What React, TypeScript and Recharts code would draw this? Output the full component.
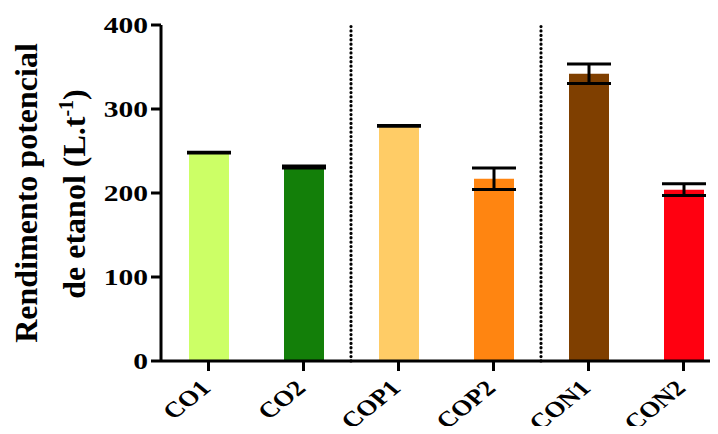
import React from 'react';
import { BarChart, Bar, XAxis, YAxis, ErrorBar, Cell, ReferenceLine, Label } from 'recharts';

const categories = ['CO1', 'CO2', 'COP1', 'COP2', 'CON1', 'CON2'];
const values = [248, 231, 280, 217, 342, 204];
const errors = [0.4, 1.2, 0.4, 12.9, 11.5, 7];
const colors = ['#CCFF66', '#137F09', '#FFCC66', '#FF8511', '#7F3F00', '#FF0010'];
const yTicks = [0, 100, 200, 300, 400];
const separators = ['COP1', 'CON1'];

const data = categories.map((name, i) => ({ name, value: values[i], err: errors[i] }));

const FONT = '"Liberation Serif", "Times New Roman", serif';
const STRETCH = 1.23;

const YTick = (props: any) => {
  const { x, y, payload } = props;
  return (
    <g transform={`translate(${x - 1},${y + 8})`}>
      <text
        transform={`scale(${STRETCH},1)`}
        x={0}
        y={0}
        textAnchor="end"
        fontFamily={FONT}
        fontWeight="bold"
        fontSize={24}
        fill="#000"
      >
        {payload.value}
      </text>
    </g>
  );
};

const XTick = (props: any) => {
  const { x, y, payload } = props;
  return (
    <g transform={`translate(${x + 3.5},${y + 16.5})`}>
      <g transform={`scale(${STRETCH},1)`}>
        <g transform="rotate(-45)">
          <text
            x={0}
            y={0}
            textAnchor="end"
            fontFamily={FONT}
            fontWeight="bold"
            fontSize={22}
            fill="#000"
          >
            {payload.value}
          </text>
        </g>
      </g>
    </g>
  );
};

const YTitle = (props: any) => {
  const { viewBox } = props;
  const cy = viewBox.y + viewBox.height / 2;
  return (
    <g fontFamily={FONT} fontWeight="bold" fontSize={32} fill="#000">
      <text transform={`translate(37,${cy}) rotate(-90)`} textAnchor="middle">
        Rendimento potencial
      </text>
      <text transform={`translate(85,${cy + 1}) rotate(-90)`} textAnchor="middle">
        de etanol (L.t
        <tspan fontSize={20} dy={-12}>-1</tspan>
        <tspan dy={12}>)</tspan>
      </text>
    </g>
  );
};

export default function App() {
  return (
    <div style={{ margin: -8, width: 718, height: 434, overflow: 'hidden', background: '#fff' }}>
      <BarChart
        width={735}
        height={434}
        data={data}
        margin={{ top: 25, right: 4, left: 0, bottom: 0 }}
        barCategoryGap={0}
      >
        <XAxis
          dataKey="name"
          height={73}
          axisLine={{ stroke: '#000', strokeWidth: 3 }}
          tickLine={{ stroke: '#000', strokeWidth: 3 }}
          tickSize={10}
          tick={XTick}
          interval={0}
        />
        <YAxis
          width={161}
          domain={[0, 400]}
          ticks={yTicks}
          axisLine={{ stroke: '#000', strokeWidth: 3 }}
          tickLine={{ stroke: '#000', strokeWidth: 3 }}
          tickSize={10}
          tick={YTick}
          interval={0}
        >
          <Label content={<YTitle />} />
        </YAxis>
        {separators.map((s) => (
          <ReferenceLine
            key={s}
            x={s}
            position="start"
            stroke="#000"
            strokeWidth={3.2}
            strokeDasharray="0.1 4.3"
            strokeLinecap="round"
          />
        ))}
        <Bar dataKey="value" barSize={40} isAnimationActive={false}>
          {data.map((d, i) => (
            <Cell key={d.name} fill={colors[i]} />
          ))}
          <ErrorBar dataKey="err" width={22} strokeWidth={3} stroke="#000" isAnimationActive={false} />
        </Bar>
      </BarChart>
    </div>
  );
}
